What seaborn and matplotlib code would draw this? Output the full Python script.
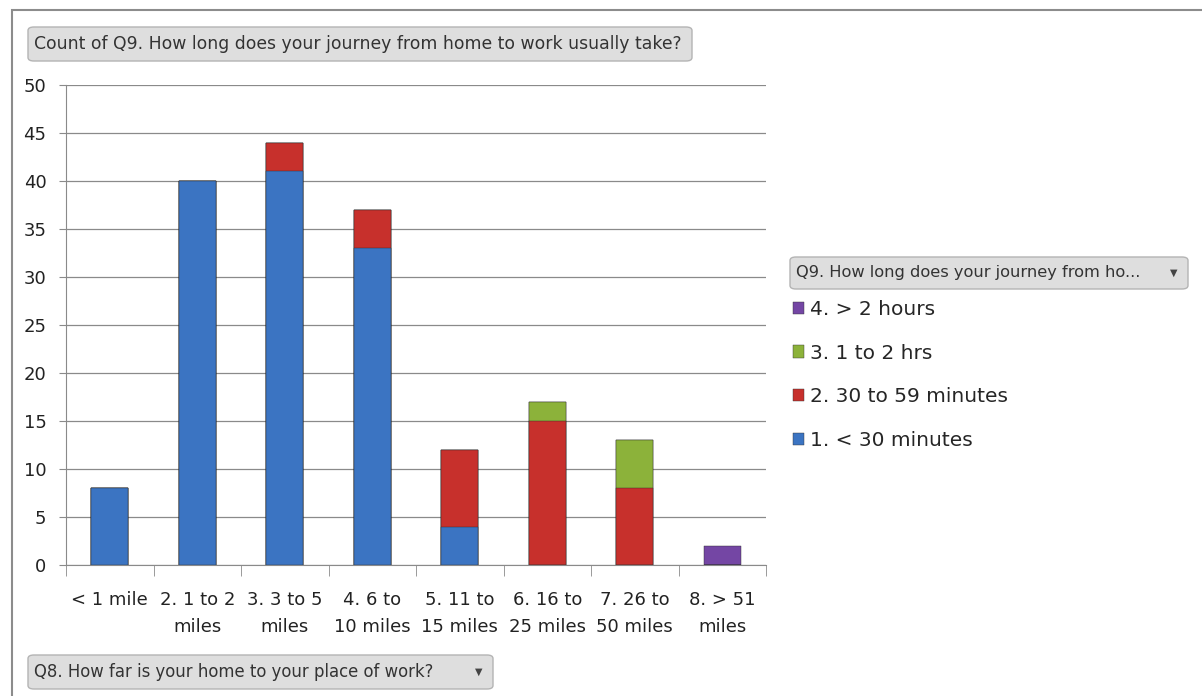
import numpy as np
import pandas as pd
import matplotlib
matplotlib.use('Agg')
import matplotlib.pyplot as plt
import seaborn as sns
from matplotlib.patches import FancyBboxPatch, Rectangle, Patch

# ===== data =====
categories = ['< 1 mile', '2. 1 to 2\nmiles', '3. 3 to 5\nmiles', '4. 6 to\n10 miles',
              '5. 11 to\n15 miles', '6. 16 to\n25 miles', '7. 26 to\n50 miles', '8. > 51\nmiles']
under_30 = [8, 40, 41, 33, 4, 0, 0, 0]
mins_30_59 = [0, 0, 3, 4, 8, 15, 8, 0]
hrs_1_2 = [0, 0, 0, 0, 0, 2, 5, 0]
over_2h = [0, 0, 0, 0, 0, 0, 0, 2]
series_names = ['1. < 30 minutes', '2. 30 to 59 minutes', '3. 1 to 2 hrs', '4. > 2 hours']
colors = ['#3b74c2', '#c7302c', '#8cb23a', '#7446a4']
yticks = [0, 5, 10, 15, 20, 25, 30, 35, 40, 45, 50]

sns.set_style('white')
plt.rcParams['font.family'] = ['DejaVu Sans']

fig = plt.figure(figsize=(12.02, 6.96), dpi=100)
W, H = 1202, 696
ax = fig.add_axes([66 / W, (H - 565) / H, 700 / W, 480 / H])

# stacked bars: draw cumulative totals, tallest layer first
layers = [under_30, mins_30_59, hrs_1_2, over_2h]
cum = np.cumsum(np.array(layers), axis=0)
df = pd.DataFrame({'cat': categories})
for i in range(len(layers) - 1, -1, -1):
    df['v'] = cum[i]
    sns.barplot(data=df, x='cat', y='v', color=colors[i], width=0.42,
                edgecolor='#2a2a2a', linewidth=0.3, saturation=1, ax=ax)

ax.set_ylim(0, 50)
ax.set_xlim(-0.5, len(categories) - 0.5)
ax.set_yticks(yticks)
ax.set_yticklabels([str(t) for t in yticks], fontsize=13, color='#222222')
ax.yaxis.grid(True, color='#8a8a8a', linewidth=0.9)
ax.set_axisbelow(True)
ax.set_xlabel('')
ax.set_ylabel('')
ax.tick_params(axis='y', left=True, length=5, color='#8a8a8a', pad=9)
ax.set_xticks(range(len(categories)))
ax.set_xticklabels(categories, fontsize=13, color='#222222', linespacing=1.65)
ax.set_xticks(np.arange(-0.5, len(categories), 1), minor=True)
ax.tick_params(axis='x', which='major', bottom=False, pad=15)
ax.tick_params(axis='x', which='minor', bottom=True, length=8, color='#8a8a8a')
for s in ['top', 'right']:
    ax.spines[s].set_visible(False)
for s in ['left', 'bottom']:
    ax.spines[s].set_color('#8a8a8a')

# outer frame
fig.patches.append(Rectangle((12 / W, -0.1), 1.2, (H - 10) / H + 0.1, transform=fig.transFigure,
                             fill=False, edgecolor='#8c8c8c', linewidth=1.5))

# field buttons
def button(x0, y0, x1, y1, text, size, arrow=False):
    fig.patches.append(FancyBboxPatch((x0 / W, (H - y1) / H), (x1 - x0) / W, (y1 - y0) / H,
                                      boxstyle='round,pad=0,rounding_size=0.005',
                                      transform=fig.transFigure, facecolor='#dedede',
                                      edgecolor='#b4b4b4', linewidth=1))
    fig.text((x0 + 6) / W, (H - (y0 + y1) / 2) / H, text, fontsize=size, color='#333333',
             va='center', ha='left')
    if arrow:
        fig.text((x1 - 14) / W, (H - (y0 + y1) / 2) / H, '▼', fontsize=7, color='#444444',
                 va='center', ha='center')

button(28, 27, 692, 61, 'Count of Q9. How long does your journey from home to work usually take?', 12.4)
button(28, 655, 493, 689, 'Q8. How far is your home to your place of work?', 11.9, arrow=True)
button(790, 257, 1188, 289, 'Q9. How long does your journey from ho...', 11.7, arrow=True)

# legend
handles = [Patch(facecolor=colors[i], edgecolor='#333333', linewidth=0.3, label=series_names[i])
           for i in range(len(series_names) - 1, -1, -1)]
fig.legend(handles=handles, loc='upper left', bbox_to_anchor=(785 / W, (H - 292) / H),
           frameon=False, fontsize=14.5, handlelength=0.55, handleheight=0.55,
           handletextpad=0.3, labelspacing=1.22, borderaxespad=0)

plt.savefig('out.png', dpi=100)
